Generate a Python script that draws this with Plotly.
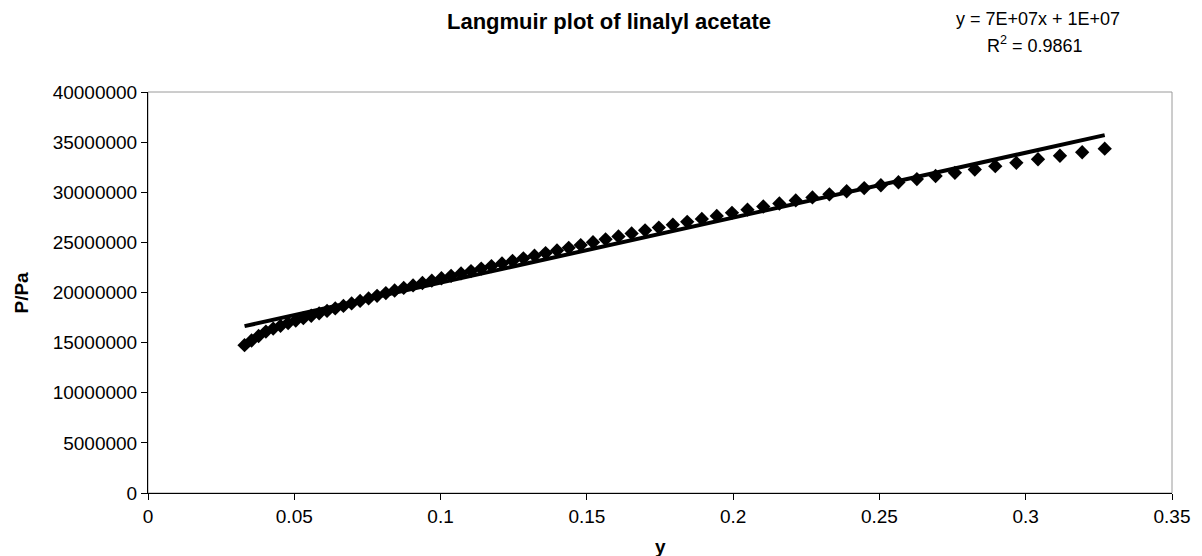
import numpy as np
import plotly.graph_objects as go

# mole fraction y (x-axis) and pressure P/Pa (y-axis)
y_frac = [0.0330, 0.0354, 0.0378, 0.0403, 0.0428, 0.0453, 0.0479, 0.0505,
          0.0531, 0.0558, 0.0585, 0.0612, 0.0640, 0.0668, 0.0696, 0.0725,
          0.0754, 0.0783, 0.0813, 0.0843, 0.0874, 0.0906, 0.0938, 0.0970,
          0.1003, 0.1036, 0.1070, 0.1104, 0.1139, 0.1174, 0.1210, 0.1246,
          0.1283, 0.1321, 0.1359, 0.1398, 0.1438, 0.1479, 0.1521, 0.1564,
          0.1608, 0.1653, 0.1699, 0.1746, 0.1794, 0.1843, 0.1893, 0.1944,
          0.1996, 0.2049, 0.2103, 0.2158, 0.2214, 0.2271, 0.2329, 0.2388,
          0.2448, 0.2505, 0.2565, 0.2628, 0.2692, 0.2758, 0.2826, 0.2896,
          0.2968, 0.3042, 0.3117, 0.3193, 0.3270]
p_mpa = [14.75, 15.21, 15.66, 16.10, 16.40, 16.68, 16.95, 17.20,
         17.44, 17.68, 17.92, 18.16, 18.41, 18.66, 18.91, 19.16,
         19.41, 19.67, 19.94, 20.20, 20.46, 20.71, 20.95, 21.18,
         21.42, 21.66, 21.90, 22.14, 22.39, 22.64, 22.90, 23.15,
         23.41, 23.67, 23.93, 24.19, 24.46, 24.73, 25.01, 25.30,
         25.59, 25.89, 26.20, 26.48, 26.76, 27.05, 27.34, 27.64,
         27.95, 28.26, 28.58, 28.88, 29.18, 29.48, 29.79, 30.10,
         30.42, 30.70, 31.00, 31.31, 31.62, 31.94, 32.27, 32.60,
         32.94, 33.29, 33.64, 33.99, 34.35]
pressure = [v * 1e6 for v in p_mpa]

title_text = "Langmuir plot of linalyl acetate"
eq_text = "y = 7E+07x + 1E+07"
r2_text = "R<sup>2</sup> = 0.9861"
x_title = "y"
y_title = "P/Pa"

# linear trendline from the data
coef = np.polyfit(y_frac, pressure, 1)
fit_x = [min(y_frac), max(y_frac)]
fit_y = [coef[0] * v + coef[1] for v in fit_x]

FONT = "Liberation Sans, Arial, sans-serif"

fig = go.Figure()
fig.add_trace(go.Scatter(
    x=y_frac, y=pressure, mode="markers",
    marker=dict(symbol="diamond", size=11, color="black", line=dict(width=0)),
    showlegend=False, hoverinfo="x+y"))
fig.add_trace(go.Scatter(
    x=fit_x, y=fit_y, mode="lines",
    line=dict(color="black", width=4),
    showlegend=False, hoverinfo="skip"))

fig.update_layout(
    width=1202, height=556,
    margin=dict(l=148, r=25, t=92, b=63),
    paper_bgcolor="white", plot_bgcolor="white",
    font=dict(family=FONT, size=19, color="black"),
    xaxis=dict(range=[0, 0.35], dtick=0.05, tick0=0,
               showgrid=False, zeroline=False,
               showline=True, linecolor="black", linewidth=1,
               ticks="outside", ticklen=6, tickcolor="black",
               tickfont=dict(size=19)),
    yaxis=dict(range=[0, 40000000], dtick=5000000, tick0=0,
               tickformat="d",
               showgrid=False, zeroline=False,
               showline=True, linecolor="black", linewidth=1,
               ticks="outside", ticklen=6, tickcolor="black",
               tickfont=dict(size=19)),
    shapes=[dict(type="rect", xref="x domain", yref="y domain",
                 x0=0, x1=1, y0=0, y1=1,
                 line=dict(color="#9a9a9a", width=1), layer="below")],
    annotations=[
        dict(text="<b>" + title_text + "</b>", xref="paper", yref="paper",
             x=0.45, y=1.0, yshift=71, showarrow=False,
             font=dict(size=22), xanchor="center", yanchor="middle"),
        dict(text=eq_text, xref="paper", yref="paper",
             x=0.869, y=1.0, yshift=73, showarrow=False,
             font=dict(size=18), xanchor="center", yanchor="middle"),
        dict(text=r2_text, xref="paper", yref="paper",
             x=0.866, y=1.0, yshift=48, showarrow=False,
             font=dict(size=18), xanchor="center", yanchor="middle"),
        dict(text="<b>" + x_title + "</b>", xref="paper", yref="paper",
             x=0.5, y=0.0, yshift=-53, showarrow=False,
             font=dict(size=19), xanchor="center", yanchor="middle"),
        dict(text="<b>" + y_title + "</b>", xref="paper", yref="paper",
             x=0.0, y=0.5, xshift=-127, showarrow=False, textangle=-90,
             font=dict(size=19), xanchor="center", yanchor="middle"),
    ],
)

fig.write_html("out.html")
